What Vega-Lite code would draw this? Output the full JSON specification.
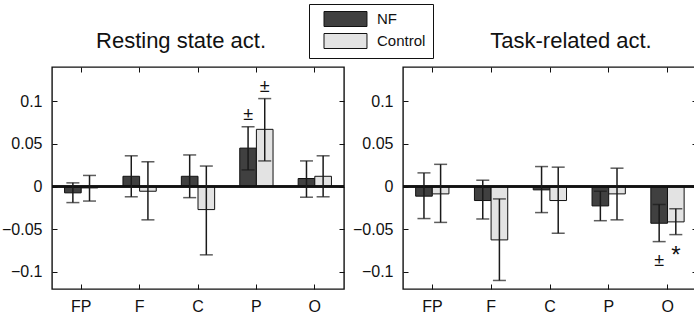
{
  "$schema": "https://vega.github.io/schema/vega-lite/v6.json",
  "background": "white",
  "padding": {"left": 0, "top": 3, "right": 0, "bottom": 0},
  "autosize": {"type": "pad"},
  "spacing": 5,
  "config": {
    "font": "Liberation Sans",
    "view": {"stroke": "#111111", "strokeWidth": 1.4},
    "axis": {
      "domain": false,
      "grid": false,
      "ticks": true,
      "tickSize": -5,
      "tickColor": "#111111",
      "tickWidth": 1,
      "labelFontSize": 16,
      "labelColor": "#111111",
      "labelFont": "Liberation Sans",
      "title": null
    },
    "legend": {
      "labelFontSize": 15,
      "labelColor": "#111111",
      "labelFont": "Liberation Sans",
      "strokeColor": "#111111",
      "fillColor": "white",
      "padding": 7,
      "symbolType": "M0,-1H5.73V1H0Z",
      "symbolSize": 225,
      "symbolStrokeColor": "#111111",
      "symbolStrokeWidth": 1,
      "rowPadding": 2,
      "labelOffset": 45
    }
  },
  "datasets": {
    "bars": [
      {"panel": "Resting", "region": "FP", "group": "NF", "value": -0.0074, "lo": -0.0188, "hi": 0.0043},
      {"panel": "Resting", "region": "FP", "group": "Control", "value": -0.0016, "lo": -0.017, "hi": 0.013},
      {"panel": "Resting", "region": "F", "group": "NF", "value": 0.012, "lo": -0.012, "hi": 0.036},
      {"panel": "Resting", "region": "F", "group": "Control", "value": -0.0055, "lo": -0.039, "hi": 0.029},
      {"panel": "Resting", "region": "C", "group": "NF", "value": 0.012, "lo": -0.013, "hi": 0.037},
      {"panel": "Resting", "region": "C", "group": "Control", "value": -0.027, "lo": -0.08, "hi": 0.024},
      {"panel": "Resting", "region": "P", "group": "NF", "value": 0.045, "lo": 0.0195, "hi": 0.07},
      {"panel": "Resting", "region": "P", "group": "Control", "value": 0.067, "lo": 0.03, "hi": 0.103},
      {"panel": "Resting", "region": "O", "group": "NF", "value": 0.0094, "lo": -0.0125, "hi": 0.03},
      {"panel": "Resting", "region": "O", "group": "Control", "value": 0.012, "lo": -0.012, "hi": 0.036},
      {"panel": "Task", "region": "FP", "group": "NF", "value": -0.0113, "lo": -0.0375, "hi": 0.016},
      {"panel": "Task", "region": "FP", "group": "Control", "value": -0.0086, "lo": -0.042, "hi": 0.026},
      {"panel": "Task", "region": "F", "group": "NF", "value": -0.0164, "lo": -0.038, "hi": 0.0074},
      {"panel": "Task", "region": "F", "group": "Control", "value": -0.0625, "lo": -0.11, "hi": -0.0145},
      {"panel": "Task", "region": "C", "group": "NF", "value": -0.0039, "lo": -0.0305, "hi": 0.0234},
      {"panel": "Task", "region": "C", "group": "Control", "value": -0.0164, "lo": -0.0547, "hi": 0.0227},
      {"panel": "Task", "region": "P", "group": "NF", "value": -0.0227, "lo": -0.04, "hi": -0.0055},
      {"panel": "Task", "region": "P", "group": "Control", "value": -0.0086, "lo": -0.039, "hi": 0.0215},
      {"panel": "Task", "region": "O", "group": "NF", "value": -0.043, "lo": -0.0645, "hi": -0.021},
      {"panel": "Task", "region": "O", "group": "Control", "value": -0.0414, "lo": -0.0563, "hi": -0.026}
    ],
    "notes": [
      {"panel": "Resting", "region": "P", "group": "NF", "pos": 0.084, "label": "±", "size": 18},
      {"panel": "Resting", "region": "P", "group": "Control", "pos": 0.117, "label": "±", "size": 18},
      {"panel": "Task", "region": "O", "group": "NF", "pos": -0.087, "label": "±", "size": 18},
      {"panel": "Task", "region": "O", "group": "Control", "pos": -0.081, "label": "*", "size": 24}
    ]
  },
  "hconcat": [
    {
      "width": 292,
      "height": 222,
      "title": {"text": "Resting state act.", "fontSize": 22, "fontWeight": "normal", "font": "Liberation Sans", "offset": 14, "dx": -17, "color": "#111111"},
      "data": {"name": "bars"},
      "transform": [{"filter": "datum.panel === 'Resting'"}],
      "resolve": {"axis": {"x": "independent", "y": "independent"}},
      "layer": [
        {
          "mark": {"type": "bar", "stroke": "#111111", "strokeWidth": 1},
          "encoding": {
            "x": {"field": "region", "type": "nominal", "sort": ["FP", "F", "C", "P", "O"], "scale": {"paddingInner": 0.43, "paddingOuter": 0.215}, "axis": {"orient": "bottom", "labelAngle": 0, "labelPadding": 14}},
            "xOffset": {"field": "group", "type": "nominal", "sort": ["NF", "Control"], "scale": {"paddingInner": 0, "paddingOuter": 0}},
            "y": {"field": "value", "type": "quantitative", "scale": {"domain": [-0.12, 0.14], "nice": false, "zero": false}, "axis": {"orient": "left", "values": [-0.1, -0.05, 0, 0.05, 0.1], "format": "~g", "labelPadding": 15}},
            "fill": {"field": "group", "type": "nominal", "scale": {"domain": ["NF", "Control"], "range": ["#404040", "#e3e3e3"]}, "legend": {"title": null, "orient": "none", "legendX": 257, "legendY": -63}}
          }
        },
        {
          "mark": {"type": "rule", "color": "#111111", "strokeWidth": 1.5},
          "encoding": {"y": {"datum": 0, "type": "quantitative", "axis": null}}
        },
        {
          "mark": {"type": "rule", "color": "#1a1a1a", "strokeWidth": 1.5},
          "encoding": {
            "x": {"field": "region", "type": "nominal", "sort": ["FP", "F", "C", "P", "O"], "axis": {"orient": "top", "labels": false}},
            "xOffset": {"field": "group", "type": "nominal", "sort": ["NF", "Control"]},
            "y": {"field": "lo", "type": "quantitative", "axis": {"orient": "right", "labels": false, "values": [-0.1, -0.05, 0, 0.05, 0.1]}},
            "y2": {"field": "hi"}
          }
        },
        {
          "mark": {"type": "tick", "size": 13, "thickness": 1.5, "color": "#1a1a1a"},
          "encoding": {
            "x": {"field": "region", "type": "nominal", "sort": ["FP", "F", "C", "P", "O"], "axis": null},
            "xOffset": {"field": "group", "type": "nominal", "sort": ["NF", "Control"]},
            "y": {"field": "lo", "type": "quantitative", "axis": null}
          }
        },
        {
          "mark": {"type": "tick", "size": 13, "thickness": 1.5, "color": "#1a1a1a"},
          "encoding": {
            "x": {"field": "region", "type": "nominal", "sort": ["FP", "F", "C", "P", "O"], "axis": null},
            "xOffset": {"field": "group", "type": "nominal", "sort": ["NF", "Control"]},
            "y": {"field": "hi", "type": "quantitative", "axis": null}
          }
        },
        {
          "data": {"name": "notes"},
          "transform": [{"filter": "datum.panel === 'Resting'"}],
          "mark": {"type": "text", "color": "#111111", "baseline": "middle", "align": "center", "font": "Liberation Sans"},
          "encoding": {
            "x": {"field": "region", "type": "nominal", "sort": ["FP", "F", "C", "P", "O"], "axis": null},
            "xOffset": {"field": "group", "type": "nominal", "sort": ["NF", "Control"]},
            "y": {"field": "pos", "type": "quantitative", "axis": null},
            "text": {"field": "label"},
            "size": {"field": "size", "type": "quantitative", "scale": null}
          }
        }
      ]
    },
    {
      "width": 294,
      "height": 222,
      "title": {"text": "Task-related act.", "fontSize": 22, "fontWeight": "normal", "font": "Liberation Sans", "offset": 14, "dx": 21, "color": "#111111"},
      "data": {"name": "bars"},
      "transform": [{"filter": "datum.panel === 'Task'"}],
      "resolve": {"axis": {"x": "independent", "y": "independent"}},
      "layer": [
        {
          "mark": {"type": "bar", "stroke": "#111111", "strokeWidth": 1},
          "encoding": {
            "x": {"field": "region", "type": "nominal", "sort": ["FP", "F", "C", "P", "O"], "scale": {"paddingInner": 0.43, "paddingOuter": 0.215}, "axis": {"orient": "bottom", "labelAngle": 0, "labelPadding": 14}},
            "xOffset": {"field": "group", "type": "nominal", "sort": ["NF", "Control"], "scale": {"paddingInner": 0, "paddingOuter": 0}},
            "y": {"field": "value", "type": "quantitative", "scale": {"domain": [-0.12, 0.14], "nice": false, "zero": false}, "axis": {"orient": "left", "values": [-0.1, -0.05, 0, 0.05, 0.1], "format": "~g", "labelPadding": 15}},
            "fill": {"field": "group", "type": "nominal", "scale": {"domain": ["NF", "Control"], "range": ["#404040", "#e3e3e3"]}, "legend": {"title": null, "orient": "none", "legendX": 257, "legendY": -63}}
          }
        },
        {
          "mark": {"type": "rule", "color": "#111111", "strokeWidth": 1.5},
          "encoding": {"y": {"datum": 0, "type": "quantitative", "axis": null}}
        },
        {
          "mark": {"type": "rule", "color": "#1a1a1a", "strokeWidth": 1.5},
          "encoding": {
            "x": {"field": "region", "type": "nominal", "sort": ["FP", "F", "C", "P", "O"], "axis": {"orient": "top", "labels": false}},
            "xOffset": {"field": "group", "type": "nominal", "sort": ["NF", "Control"]},
            "y": {"field": "lo", "type": "quantitative", "axis": {"orient": "right", "labels": false, "values": [-0.1, -0.05, 0, 0.05, 0.1]}},
            "y2": {"field": "hi"}
          }
        },
        {
          "mark": {"type": "tick", "size": 13, "thickness": 1.5, "color": "#1a1a1a"},
          "encoding": {
            "x": {"field": "region", "type": "nominal", "sort": ["FP", "F", "C", "P", "O"], "axis": null},
            "xOffset": {"field": "group", "type": "nominal", "sort": ["NF", "Control"]},
            "y": {"field": "lo", "type": "quantitative", "axis": null}
          }
        },
        {
          "mark": {"type": "tick", "size": 13, "thickness": 1.5, "color": "#1a1a1a"},
          "encoding": {
            "x": {"field": "region", "type": "nominal", "sort": ["FP", "F", "C", "P", "O"], "axis": null},
            "xOffset": {"field": "group", "type": "nominal", "sort": ["NF", "Control"]},
            "y": {"field": "hi", "type": "quantitative", "axis": null}
          }
        },
        {
          "data": {"name": "notes"},
          "transform": [{"filter": "datum.panel === 'Task'"}],
          "mark": {"type": "text", "color": "#111111", "baseline": "middle", "align": "center", "font": "Liberation Sans"},
          "encoding": {
            "x": {"field": "region", "type": "nominal", "sort": ["FP", "F", "C", "P", "O"], "axis": null},
            "xOffset": {"field": "group", "type": "nominal", "sort": ["NF", "Control"]},
            "y": {"field": "pos", "type": "quantitative", "axis": null},
            "text": {"field": "label"},
            "size": {"field": "size", "type": "quantitative", "scale": null}
          }
        }
      ]
    }
  ]
}
